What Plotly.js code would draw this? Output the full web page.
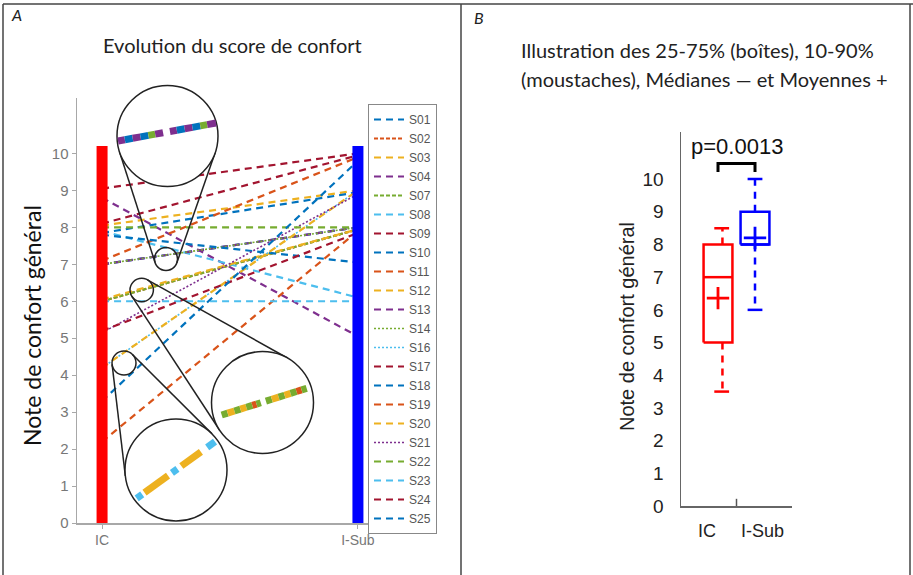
<!DOCTYPE html>
<html><head><meta charset="utf-8">
<script src="https://cdn.plot.ly/plotly-3.0.1.min.js"></script>
<style>html,body{margin:0;padding:0;background:#fff}#chart{width:913px;height:575px}</style>
</head><body><div id="chart"></div>
<script>
// ---------- DATA ----------
const groupLabels = ['IC', 'I-Sub'];
const subjects   = ['S01','S02','S03','S04','S07','S08','S09','S10','S11','S12','S13','S14','S16','S17','S18','S19','S20','S21','S22','S23','S24','S25'];
const icScores   = [7.0, 6.0, 8.05, 8.8, 6.0, 7.9, 9.05, 7.85, 7.1, 6.05, 7.0, 7.0, 4.2, 8.1, 7.8, 2.2, 4.2, 5.15, 8.0, 6.0, 5.2, 3.3];
const isubScores = [8.0, 7.95, 9.0, 5.05, 7.95, 6.1, 10.0, 8.95, 9.9, 7.95, 8.0, 8.0, 9.0, 9.95, 7.05, 7.9, 9.0, 8.9, 8.0, 6.0, 7.85, 9.8];
const rangeBarTop = [10.2, 10.2];
const yTickValues = [0,1,2,3,4,5,6,7,8,9,10];

const boxGroups = ['IC', 'I-Sub'];
const boxP10    = [3.5, 6];
const boxQ1     = [5, 8];
const boxMedian = [7, 8];
const boxQ3     = [8, 9];
const boxP90    = [8.5, 10];
const boxMean   = [6.36, 8.2];
const pValueText = 'p=0.0013';

// ---------- STYLE ----------
const W = 913, H = 575;
const px = x => x / W, py = y => 1 - y / H;
const colorCycle = ['#0072BD','#D95319','#EDB120','#7E2F8E','#77AC30','#4DBEEE','#A2142F'];
const styleOf = {S02:'dashdot', S07:'dashdot', S14:'dot', S16:'dot', S21:'dot'};
const dashPattern = {dash:'7px,5px', dashdot:'4px,2px', dot:'2px,2px'};

const traces = [];
subjects.forEach((s, i) => {
  const st = styleOf[s] || 'dash';
  traces.push({
    type:'scatter', mode:'lines', name:s, x:groupLabels, y:[icScores[i], isubScores[i]],
    xaxis:'x', yaxis:'y', hoverinfo:'skip',
    line:{color:colorCycle[i % 7], width: st === 'dot' ? 1.6 : 2.2, dash:dashPattern[st]}
  });
});
const barColors = ['#FF0000', '#0000FF'];
groupLabels.forEach((g, k) => {
  traces.push({type:'scatter', mode:'lines', x:[g, g], y:[0, rangeBarTop[k]], xaxis:'x', yaxis:'y',
    line:{color:barColors[k], width:11}, showlegend:false, hoverinfo:'skip'});
});

// Box plot panel (B)
const boxPos = boxGroups.map((g, i) => i + 1);
const whiskerShift = [0.12, 0];
const capShift = [0.1, 0];
boxGroups.forEach((g, i) => {
  const p = boxPos[i], c = barColors[i], hw = 0.39, cw = 0.2;
  const common = {type:'scatter', xaxis:'x2', yaxis:'y2', showlegend:false, hoverinfo:'skip'};
  const wx = p + whiskerShift[i], cx = p + capShift[i];
  traces.push(Object.assign({}, common, {mode:'lines', x:[wx, wx, null, wx, wx], y:[boxQ3[i], boxP90[i], null, boxQ1[i], boxP10[i]],
    line:{color:c, width:2.5, dash:'7px,6px'}}));
  traces.push(Object.assign({}, common, {mode:'lines', x:[cx-cw, cx+cw, null, cx-cw, cx+cw], y:[boxP90[i], boxP90[i], null, boxP10[i], boxP10[i]],
    line:{color:c, width:2.5}}));
  traces.push(Object.assign({}, common, {mode:'lines', fill:'toself', fillcolor:'#ffffff',
    x:[p-hw, p+hw, p+hw, p-hw, p-hw], y:[boxQ1[i], boxQ1[i], boxQ3[i], boxQ3[i], boxQ1[i]], line:{color:c, width:2.5}}));
  traces.push(Object.assign({}, common, {mode:'lines', x:[p-hw, p+hw], y:[boxMedian[i], boxMedian[i]], line:{color:c, width:2.5}}));
  traces.push(Object.assign({}, common, {mode:'markers', x:[p], y:[boxMean[i]],
    marker:{symbol:'cross-thin', size:16, color:c, line:{color:c, width:2.8}}}));
});

// ---------- SHAPES (frame, bracket, magnifier insets) ----------
const shapes = [];
const pline = (x0, y0, x1, y1, color, width) => shapes.push({type:'line', xref:'paper', yref:'paper',
  x0:px(x0), y0:py(y0), x1:px(x1), y1:py(y1), line:{color:color, width:width}});
pline(3, 4, 913, 4, '#444', 1.5);
pline(3, 4, 3, 575, '#444', 1.5);
pline(461, 4, 461, 575, '#444', 1.5);
pline(910, 4, 910, 575, '#444', 1.5);

shapes.push({type:'path', xref:'x2', yref:'y2',
  path:`M ${boxPos[0]},10.22 L ${boxPos[0]},10.48 L ${boxPos[1]},10.48 L ${boxPos[1]},10.22`,
  line:{color:'#000', width:3}});
shapes.push({type:'line', xref:'x2', yref:'y2', x0:1.5, x1:1.5, y0:0, y1:0.22, line:{color:'#555', width:1.5}});

function extTangents(c1, r1, c2, r2) {
  const dx = c2[0]-c1[0], dy = c2[1]-c1[1], d = Math.hypot(dx, dy);
  const ux = dx/d, uy = dy/d, k = (r2-r1)/d, s = Math.sqrt(1-k*k);
  return [1, -1].map(sg => {
    const nx = k*ux - sg*s*uy, ny = k*uy + sg*s*ux;
    return [c1[0]-r1*nx, c1[1]-r1*ny, c2[0]-r2*nx, c2[1]-r2*ny];
  });
}
const C = {P:'#7E2F8E', B:'#0072BD', G:'#77AC30', Y:'#EDB120', O:'#D95319', L:'#4DBEEE'};
const insets = [
  {small:[166,259,11.5], big:[167.5,136,50.5], seg:[118,141,216,123],
   pieces:[[0,.07,'P'],[.07,.15,'B'],[.15,.23,'P'],[.23,.31,'B'],[.31,.38,'G'],[.38,.46,'P'],
           [.53,.6,'P'],[.6,.68,'B'],[.68,.76,'P'],[.76,.84,'B'],[.84,.91,'G'],[.91,1,'P']]},
  {small:[141.7,290,11.7], big:[262.5,402.5,51], seg:[221.7,415,306.7,388.3],
   pieces:[[0,.07,'G'],[.07,.15,'Y'],[.15,.22,'G'],[.22,.29,'Y'],[.29,.36,'G'],[.36,.41,'O'],[.41,.46,'G'],
           [.52,.59,'G'],[.59,.67,'Y'],[.67,.74,'G'],[.74,.81,'Y'],[.81,.88,'G'],[.88,.94,'O'],[.94,1,'G']]},
  {small:[124,363,12], big:[176,470,51], seg:[136.7,498.3,215,441.7],
   pieces:[[0,.07,'L'],[.1,.4,'Y'],[.45,.52,'L'],[.57,.82,'Y'],[.9,1,'L']]}
];
insets.forEach(ins => {
  const [sx, sy, sr] = ins.small, [bx, by, br] = ins.big;
  extTangents([sx, sy], sr, [bx, by], br).forEach(t => pline(t[0], t[1], t[2], t[3], '#222', 1.5));
  shapes.push({type:'circle', xref:'paper', yref:'paper', x0:px(sx-sr), x1:px(sx+sr), y0:py(sy+sr), y1:py(sy-sr),
    line:{color:'#222', width:1.5}, fillcolor:'rgba(0,0,0,0)'});
  shapes.push({type:'circle', xref:'paper', yref:'paper', x0:px(bx-br), x1:px(bx+br), y0:py(by+br), y1:py(by-br),
    line:{color:'#222', width:1.5}, fillcolor:'#ffffff'});
  const [x0, y0, x1, y1] = ins.seg;
  ins.pieces.forEach(pc => {
    const a = pc[0], b = pc[1];
    pline(x0+(x1-x0)*a, y0+(y1-y0)*a, x0+(x1-x0)*b, y0+(y1-y0)*b, C[pc[2]], 7);
  });
});

// ---------- ANNOTATIONS ----------
const ann = (x, y, text, font, extra) => Object.assign({xref:'paper', yref:'paper', x:px(x), y:py(y), text:text,
  showarrow:false, font:font, xanchor:'center', yanchor:'middle'}, extra || {});
const lato = (size, color) => ({family:'Lato, Noto Sans, sans-serif', size:size, color:color || '#222'});
const annotations = [
  ann(9, 15, '<i>A</i>', lato(16), {xanchor:'left'}),
  ann(472, 17, '<i>B</i>', lato(16), {xanchor:'left'}),
  ann(232, 45, 'Evolution du score de confort', lato(20)),
  ann(519, 50, 'Illustration des 25-75% (boîtes), 10-90%', lato(20), {xanchor:'left'}),
  ann(519, 79, '(moustaches), Médianes — et Moyennes +', lato(20), {xanchor:'left'}),
  ann(32, 326, 'Note de confort général', lato(23, '#111'), {textangle:-90}),
  ann(627, 327, 'Note de confort général', {family:'Liberation Sans, Arial, sans-serif', size:20, color:'#222'}, {textangle:-90}),
  {xref:'x2', yref:'y2', x:1.5, y:10.99, text:pValueText, showarrow:false, xanchor:'center', yanchor:'middle',
   font:{family:'Liberation Sans, Arial, sans-serif', size:22, color:'#111'}}
];

const grayAxis = {showline:true, linecolor:'#a8a8a8', linewidth:1.5, ticks:'outside', ticklen:4, tickcolor:'#a8a8a8',
  showgrid:false, zeroline:false, fixedrange:true};
const darkAxis = {showline:true, linecolor:'#666', linewidth:1.5, ticks:'', showgrid:false, zeroline:false, fixedrange:true};

const layout = {
  width:W, height:H, margin:{l:0, r:0, t:0, b:0}, paper_bgcolor:'#fff', plot_bgcolor:'rgba(0,0,0,0)',
  showlegend:true,
  legend:{x:px(368), y:py(104), xanchor:'left', yanchor:'top', bgcolor:'#fff', bordercolor:'#888', borderwidth:1,
    font:{family:'Liberation Sans, Arial, sans-serif', size:12, color:'#555'}, itemwidth:30, tracegroupgap:0},
  xaxis:Object.assign({}, grayAxis, {domain:[px(77), px(383)], anchor:'y', type:'category', categoryarray:groupLabels,
    range:[-0.098, 1.098], tickfont:{family:'Liberation Sans, Arial, sans-serif', size:14, color:'#777'}}),
  yaxis:Object.assign({}, grayAxis, {domain:[py(523), py(98)], anchor:'x', range:[0, 11.5], tickvals:yTickValues,
    tickfont:{family:'Liberation Sans, Arial, sans-serif', size:15, color:'#777'}}),
  xaxis2:Object.assign({}, darkAxis, {domain:[px(681), px(792)], anchor:'y2', range:[0, 3],
    tickvals:[boxPos[0]-0.3, boxPos[1]+0.2], ticktext:boxGroups, ticklabelstandoff:8,
    tickfont:{family:'Liberation Sans, Arial, sans-serif', size:18, color:'#222'}}),
  yaxis2:Object.assign({}, darkAxis, {domain:[py(506), py(131.7)], anchor:'x2', range:[0, 11.45], tickvals:yTickValues,
    ticklabelstandoff:12, tickfont:{family:'Liberation Sans, Arial, sans-serif', size:19, color:'#222'}}),
  shapes:shapes, annotations:annotations
};
Plotly.newPlot('chart', traces, layout, {displayModeBar:false, staticPlot:true});
</script></body></html>
